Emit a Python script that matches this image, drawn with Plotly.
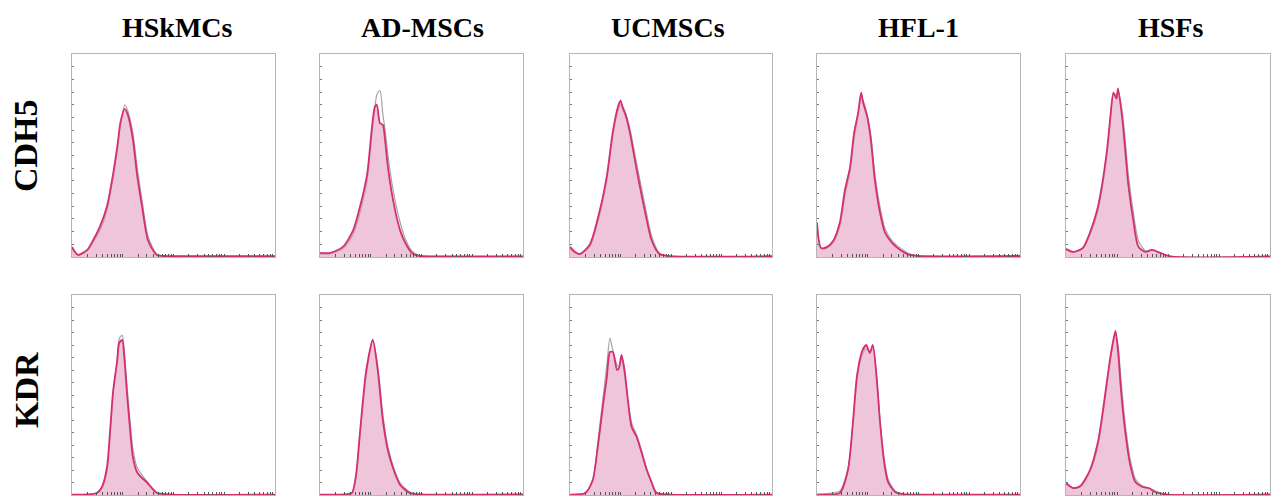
import plotly.graph_objects as go

# Column (cell type) and row (marker) labels
CELL_TYPES = ["HSkMCs", "AD-MSCs", "UCMSCs", "HFL-1", "HSFs"]
MARKERS = ["CDH5", "KDR"]

# Histogram data: x in log10 fluorescence units, y in % of axis height
# Row 1: CDH5
CDH5_HSKMCS_X = [1.0, 1.06, 1.12, 1.3, 1.41, 1.55, 1.69, 1.79, 1.89, 1.96, 2.04, 2.1, 2.2, 2.28, 2.38, 2.5, 2.67, 2.8, 3.2, 4.0, 5.0]
CDH5_HSKMCS_PINK = [5, 2.5, 1, 3.5, 8, 15, 25, 38, 54, 67, 73, 70, 58, 41, 25, 8, 1, 0.5, 0.4, 0.4, 0.4]
CDH5_HSKMCS_GRAY = [4, 2, 1, 3, 7, 13, 23, 36, 52, 66, 75, 72, 61, 45, 28, 10, 1.5, 0.5, 0.3, 0.3, 0.3]

CDH5_ADMSCS_X = [1.0, 1.2, 1.45, 1.65, 1.79, 1.93, 2.02, 2.08, 2.12, 2.18, 2.24, 2.28, 2.34, 2.44, 2.58, 2.68, 2.81, 2.95, 3.5, 5.0]
CDH5_ADMSCS_PINK = [2, 2, 5, 13, 25, 41, 63, 74, 75, 66, 65, 58, 44, 28, 13, 7, 2, 0.5, 0.3, 0.3]
CDH5_ADMSCS_GRAY = [1.5, 1.5, 4, 11, 22, 38, 60, 73, 80, 82, 70, 63, 50, 33, 17, 9, 3, 0.8, 0.3, 0.3]

CDH5_UCMSCS_X = [1.0, 1.1, 1.2, 1.39, 1.59, 1.73, 1.85, 1.95, 2.0, 2.05, 2.1, 2.18, 2.32, 2.48, 2.62, 2.77, 3.0, 5.0]
CDH5_UCMSCS_PINK = [5, 2.5, 1.5, 6, 23, 40, 62, 74, 77, 73, 70, 62, 43, 23, 8, 1.5, 0.4, 0.4]
CDH5_UCMSCS_GRAY = [4, 2, 1.5, 5, 21, 38, 60, 72, 75, 74, 71, 64, 46, 26, 10, 2, 0.4, 0.4]

CDH5_HFL1_X = [1.0, 1.08, 1.2, 1.32, 1.45, 1.55, 1.65, 1.73, 1.81, 1.87, 1.91, 1.99, 2.06, 2.14, 2.24, 2.34, 2.48, 2.64, 2.83, 3.0, 5.0]
CDH5_HFL1_PINK = [17, 4.5, 5, 8, 17, 33, 44, 61, 71, 81, 76, 69, 58, 38, 22, 12, 7, 3.5, 1, 0.5, 0.5]
CDH5_HFL1_GRAY = [15, 4, 4.5, 7, 15, 30, 42, 58, 70, 79, 77, 70, 60, 41, 25, 14, 8, 4.5, 1.5, 0.5, 0.5]

CDH5_HSFS_X = [1.0, 1.14, 1.33, 1.47, 1.61, 1.71, 1.81, 1.87, 1.93, 1.99, 2.02, 2.1, 2.16, 2.22, 2.32, 2.42, 2.56, 2.69, 2.85, 3.05, 5.0]
CDH5_HSFS_PINK = [4, 2.5, 4.5, 12, 23, 36, 54, 69, 81, 78, 83, 69, 53, 36, 18, 5, 2.5, 3.5, 2, 0.3, 0.3]
CDH5_HSFS_GRAY = [3.5, 2.5, 4, 11, 21, 34, 52, 68, 80, 80, 82, 72, 58, 41, 22, 8, 3, 3.5, 2, 0.3, 0.3]

# Row 2: KDR
KDR_HSKMCS_X = [1.0, 1.49, 1.59, 1.69, 1.75, 1.81, 1.89, 1.93, 1.99, 2.03, 2.08, 2.14, 2.2, 2.28, 2.38, 2.47, 2.57, 2.67, 3.0, 5.0]
KDR_HSKMCS_PINK = [0.2, 1, 4, 14, 32, 52, 67, 76, 77.5, 69, 52, 34, 19, 11.5, 8.5, 6.5, 3.5, 1, 0.2, 0.2]
KDR_HSKMCS_GRAY = [0.2, 1, 3.5, 12, 29, 50, 68, 78, 80, 72, 56, 38, 23, 14, 10, 7, 4, 1.5, 0.2, 0.2]

KDR_ADMSCS_X = [1.0, 1.5, 1.63, 1.71, 1.79, 1.91, 2.04, 2.14, 2.24, 2.34, 2.46, 2.58, 2.77, 3.0, 5.0]
KDR_ADMSCS_PINK = [0.2, 0.3, 1, 10, 32, 62, 77.5, 62, 37, 22, 12, 5, 1, 0.3, 0.3]
KDR_ADMSCS_GRAY = [0.2, 0.3, 1, 9, 30, 60, 78, 64, 40, 24, 13, 6, 1.5, 0.3, 0.3]

KDR_UCMSCS_X = [1.0, 1.3, 1.45, 1.55, 1.65, 1.73, 1.79, 1.85, 1.93, 1.97, 2.02, 2.08, 2.14, 2.22, 2.32, 2.42, 2.52, 2.62, 2.71, 3.0, 5.0]
KDR_UCMSCS_PINK = [0.2, 1, 7.5, 24, 44, 59, 71.5, 71.5, 62.5, 63.5, 70, 62.5, 49, 34, 29, 21, 12.5, 6, 1, 0.2, 0.2]
KDR_UCMSCS_GRAY = [0.2, 1, 7, 26, 48, 65, 78.5, 72, 65, 64, 68, 60, 48, 36, 30, 22, 13, 6.5, 1.5, 0.2, 0.2]

KDR_HFL1_X = [1.0, 1.3, 1.45, 1.61, 1.71, 1.79, 1.89, 1.97, 2.04, 2.1, 2.18, 2.24, 2.32, 2.4, 2.54, 2.73, 3.0, 5.0]
KDR_HFL1_PINK = [0.2, 0.3, 1, 12.5, 37, 60, 72, 75, 71, 75, 57, 37, 17, 6.5, 1.5, 0.3, 0.2, 0.2]
KDR_HFL1_GRAY = [0.3, 1, 2, 13, 36, 58, 70, 73, 72, 73, 58, 38, 19, 8, 2, 0.5, 0.2, 0.2]

KDR_HSFS_X = [1.0, 1.14, 1.28, 1.47, 1.63, 1.75, 1.83, 1.91, 1.97, 2.02, 2.08, 2.16, 2.26, 2.36, 2.5, 2.62, 2.75, 2.95, 5.0]
KDR_HSFS_PINK = [6, 3.5, 4.5, 12.5, 27, 47, 62, 75, 82, 72, 52, 32, 15, 6.5, 4, 3.5, 1.5, 0.3, 0.3]
KDR_HSFS_GRAY = [5.5, 3.5, 4, 11.5, 25, 45, 60, 74, 80, 75, 57, 36, 18, 8, 4.5, 3.5, 2, 0.4, 0.3]

PANELS = [
    [(CDH5_HSKMCS_X, CDH5_HSKMCS_PINK, CDH5_HSKMCS_GRAY),
     (CDH5_ADMSCS_X, CDH5_ADMSCS_PINK, CDH5_ADMSCS_GRAY),
     (CDH5_UCMSCS_X, CDH5_UCMSCS_PINK, CDH5_UCMSCS_GRAY),
     (CDH5_HFL1_X, CDH5_HFL1_PINK, CDH5_HFL1_GRAY),
     (CDH5_HSFS_X, CDH5_HSFS_PINK, CDH5_HSFS_GRAY)],
    [(KDR_HSKMCS_X, KDR_HSKMCS_PINK, KDR_HSKMCS_GRAY),
     (KDR_ADMSCS_X, KDR_ADMSCS_PINK, KDR_ADMSCS_GRAY),
     (KDR_UCMSCS_X, KDR_UCMSCS_PINK, KDR_UCMSCS_GRAY),
     (KDR_HFL1_X, KDR_HFL1_PINK, KDR_HFL1_GRAY),
     (KDR_HSFS_X, KDR_HSFS_PINK, KDR_HSFS_GRAY)],
]

W, H = 1272, 499
COL_LEFT = [72, 320, 570, 817, 1066]
COL_RIGHT = [275, 523, 772, 1020, 1270]
ROW_TOP = [54, 295]
ROW_BOTTOM = [257, 495]

PINK_LINE = "#d42f72"
PINK_FILL = "rgba(226,150,186,0.55)"
GRAY_LINE = "rgba(140,140,140,0.8)"
FRAME = "#b5b5b5"
FONT = "Liberation Serif"

fig = go.Figure()
layout = dict(
    width=W, height=H,
    margin=dict(l=0, r=0, t=0, b=0),
    paper_bgcolor="white", plot_bgcolor="white",
    showlegend=False,
)

k = 0
for r in range(2):
    for c in range(5):
        k += 1
        xs, pink, gray = PANELS[r][c]
        xv = [10 ** v for v in xs]
        xa = "x" if k == 1 else f"x{k}"
        ya = "y" if k == 1 else f"y{k}"
        fig.add_trace(go.Scatter(
            x=xv, y=gray, xaxis=xa, yaxis=ya, mode="lines",
            line=dict(color=GRAY_LINE, width=1.2, shape="spline", smoothing=0.7),
            hoverinfo="skip"))
        fig.add_trace(go.Scatter(
            x=xv, y=pink, xaxis=xa, yaxis=ya, mode="lines", fill="tozeroy",
            fillcolor=PINK_FILL,
            line=dict(color=PINK_LINE, width=1.8, shape="spline", smoothing=0.7),
            hoverinfo="skip"))
        xkey = "xaxis" if k == 1 else f"xaxis{k}"
        ykey = "yaxis" if k == 1 else f"yaxis{k}"
        layout[xkey] = dict(
            type="log", range=[1, 5], anchor=ya,
            domain=[COL_LEFT[c] / W, COL_RIGHT[c] / W],
            showgrid=False, zeroline=False, showticklabels=False,
            showline=True, mirror=True, linecolor=FRAME, linewidth=1,
            ticks="inside", ticklen=3, tickcolor="#555555", tickwidth=1, dtick="D1",
        )
        layout[ykey] = dict(
            range=[0, 100], anchor=xa,
            domain=[(H - ROW_BOTTOM[r]) / H, (H - ROW_TOP[r]) / H],
            showgrid=False, zeroline=False, showticklabels=False,
            showline=True, mirror=True, linecolor=FRAME, linewidth=1,
            ticks="inside", ticklen=2, tickcolor="#777777", tickwidth=1, dtick=6.25,
        )

annotations = []
TITLE_X = [177, 422, 668, 918, 1170]
for c, name in enumerate(CELL_TYPES):
    annotations.append(dict(
        text=f"<b>{name}</b>", xref="paper", yref="paper",
        x=TITLE_X[c] / W, y=(H - 27) / H,
        xanchor="center", yanchor="middle", showarrow=False,
        font=dict(family=FONT, size=28, color="black")))
ROW_LABEL_Y = [146, 390]
for r, name in enumerate(MARKERS):
    annotations.append(dict(
        text=f"<b>{name}</b>", xref="paper", yref="paper",
        x=26 / W, y=(H - ROW_LABEL_Y[r]) / H, textangle=-90,
        xanchor="center", yanchor="middle", showarrow=False,
        font=dict(family=FONT, size=34, color="black")))
layout["annotations"] = annotations

fig.update_layout(**layout)
fig.write_html(
    "out.html",
    config={"displayModeBar": False, "staticPlot": True},
    post_script="document.body.style.margin='0';document.body.style.overflow='hidden';",
)
